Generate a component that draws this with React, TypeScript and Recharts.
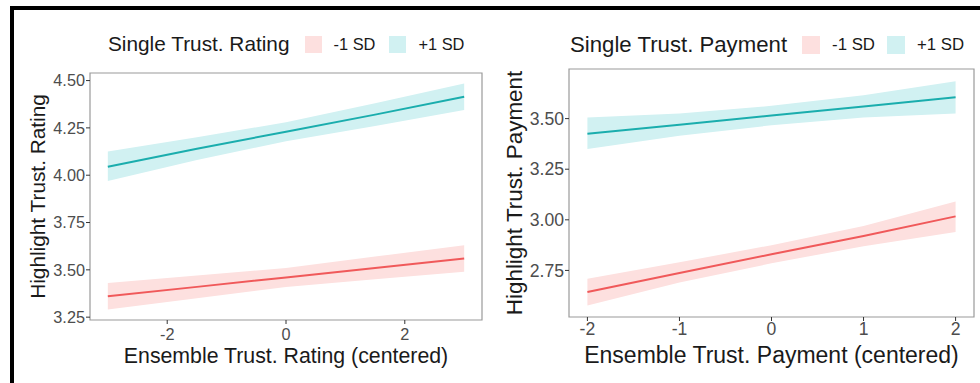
import { ComposedChart, Area, Line, XAxis, YAxis, ReferenceArea, Legend } from 'recharts'

// Left panel: Ensemble Trust. Rating (centered)
const ratingX = [-3, -1.5, 0, 1.5, 3]
const ratingLowFit = [3.36, 3.41, 3.46, 3.51, 3.56]
const ratingLowLower = [3.29, 3.35, 3.41, 3.45, 3.49]
const ratingLowUpper = [3.43, 3.47, 3.51, 3.57, 3.63]
const ratingHighFit = [4.045, 4.14, 4.23, 4.32, 4.415]
const ratingHighLower = [3.97, 4.08, 4.18, 4.26, 4.345]
const ratingHighUpper = [4.125, 4.2, 4.28, 4.38, 4.485]
const ratingYTicks = [3.25, 3.5, 3.75, 4.0, 4.25, 4.5]
const ratingXTicks = [-2, 0, 2]

// Right panel: Ensemble Trust. Payment (centered)
const paymentX = [-2, -1, 0, 1, 2]
const paymentLowFit = [2.643, 2.737, 2.83, 2.92, 3.017]
const paymentLowLower = [2.577, 2.69, 2.785, 2.87, 2.94]
const paymentLowUpper = [2.709, 2.79, 2.875, 2.97, 3.09]
const paymentHighFit = [3.425, 3.47, 3.515, 3.56, 3.605]
const paymentHighLower = [3.35, 3.415, 3.467, 3.505, 3.525]
const paymentHighUpper = [3.505, 3.525, 3.563, 3.615, 3.685]
const paymentYTicks = [2.75, 3.0, 3.25, 3.5]
const paymentXTicks = [-2, -1, 0, 1, 2]

const FONT = '"Liberation Sans", Arial, sans-serif'
const RED = '#f0595a'
const RED_FILL = '#fde0df'
const TEAL = '#1aadad'
const TEAL_FILL = '#d1f1f2'
const BORDER = '#9a9a9a'

function buildRows(x: number[], lowFit: number[], lowLo: number[], lowHi: number[], highFit: number[], highLo: number[], highHi: number[]) {
  return x.map((v, i) => ({
    x: v,
    lowFit: lowFit[i],
    lowBand: [lowLo[i], lowHi[i]],
    highFit: highFit[i],
    highBand: [highLo[i], highHi[i]],
  }))
}

interface LegendProps {
  title: string
  left: number
  titleSize: number
  labelSize: number
  box: number
  gap: number
}

function LegendContent({ title, left, titleSize, labelSize, box, gap }: LegendProps) {
  const swatch = (color: string) => (
    <span style={{ display: 'inline-block', flexShrink: 0, width: box, height: box, background: color, marginRight: 12 }} />
  )
  return (
    <div style={{ fontFamily: FONT, display: 'flex', alignItems: 'center', whiteSpace: 'nowrap', paddingLeft: left, paddingTop: 32, color: '#1a1a1a' }}>
      <span style={{ fontSize: titleSize, marginRight: 15 }}>{title}</span>
      {swatch(RED_FILL)}
      <span style={{ fontSize: labelSize, marginRight: gap }}>-1 SD</span>
      {swatch(TEAL_FILL)}
      <span style={{ fontSize: labelSize }}>+1 SD</span>
    </div>
  )
}

interface PanelProps {
  rows: ReturnType<typeof buildRows>
  xDomain: [number, number]
  yDomain: [number, number]
  xTicks: number[]
  yTicks: number[]
  xTitle: string
  yTitle: string
  legend: LegendProps
  yAxisWidth: number
  yTitleOffset: number
  xTitleOffset: number
  xTickMargin: number
  scale: number
  top: number
  bottom: number
  right: number
}

function Panel(p: PanelProps) {
  const tickStyle = { fill: '#4d4d4d', fontSize: 16.3 * p.scale, fontFamily: FONT }
  return (
    <ComposedChart width={490} height={383} data={p.rows} margin={{ top: 0, right: p.right, bottom: 0, left: 0 }}>
      <Legend
        verticalAlign="top"
        height={p.top}
        wrapperStyle={{ left: 0, top: 0, width: 490 }}
        content={() => <LegendContent {...p.legend} />}
      />
      <XAxis
        dataKey="x"
        type="number"
        domain={p.xDomain}
        ticks={p.xTicks}
        height={p.bottom}
        axisLine={false}
        tickLine={{ stroke: '#333' }}
        tickSize={4}
        tickMargin={p.xTickMargin}
        tick={tickStyle}
        label={{ value: p.xTitle, position: 'insideBottom', offset: p.xTitleOffset, style: { fill: '#1a1a1a', fontSize: 21.3 * p.scale, fontFamily: FONT } }}
      />
      <YAxis
        type="number"
        domain={p.yDomain}
        ticks={p.yTicks}
        width={p.yAxisWidth}
        allowDataOverflow
        axisLine={false}
        tickLine={{ stroke: '#333' }}
        tickSize={4}
        tickMargin={1}
        tick={tickStyle}
        tickFormatter={(v: number) => v.toFixed(2)}
        label={{ value: p.yTitle, angle: -90, position: 'insideLeft', offset: p.yTitleOffset, style: { textAnchor: 'middle', fill: '#1a1a1a', fontSize: 20.8 * p.scale, fontFamily: FONT } }}
      />
      <Area dataKey="lowBand" type="linear" fill={RED_FILL} fillOpacity={1} stroke="none" isAnimationActive={false} />
      <Area dataKey="highBand" type="linear" fill={TEAL_FILL} fillOpacity={1} stroke="none" isAnimationActive={false} />
      <Line dataKey="lowFit" type="linear" stroke={RED} strokeWidth={2} dot={false} isAnimationActive={false} />
      <Line dataKey="highFit" type="linear" stroke={TEAL} strokeWidth={2} dot={false} isAnimationActive={false} />
      <ReferenceArea
        x1={p.xDomain[0]}
        x2={p.xDomain[1]}
        y1={p.yDomain[0]}
        y2={p.yDomain[1]}
        fill="none"
        stroke={BORDER}
        strokeWidth={1.2}
      />
    </ComposedChart>
  )
}

export default function App() {
  const ratingRows = buildRows(ratingX, ratingLowFit, ratingLowLower, ratingLowUpper, ratingHighFit, ratingHighLower, ratingHighUpper)
  const paymentRows = buildRows(paymentX, paymentLowFit, paymentLowLower, paymentLowUpper, paymentHighFit, paymentHighLower, paymentHighUpper)

  return (
    <div style={{ position: 'absolute', top: 0, left: 0, width: 980, height: 383, background: '#fff', overflow: 'hidden' }}>
      <div style={{ position: 'absolute', top: 6, left: 10, width: 980, height: 383, borderTop: '4px solid #000', borderLeft: '4px solid #000' }} />
      <div style={{ position: 'absolute', top: 0, left: 0 }}>
        <Panel
          rows={ratingRows}
          xDomain={[-3.3, 3.3]}
          yDomain={[3.235, 4.54]}
          xTicks={ratingXTicks}
          yTicks={ratingYTicks}
          xTitle="Ensemble Trust. Rating (centered)"
          yTitle="Highlight Trust. Rating"
          legend={{ title: 'Single Trust. Rating', left: 108, titleSize: 20.8, labelSize: 16.4, box: 17, gap: 14 }}
          yAxisWidth={90}
          yTitleOffset={38}
          xTitleOffset={20}
          xTickMargin={4}
          scale={1}
          top={73}
          bottom={63}
          right={8}
        />
      </div>
      <div style={{ position: 'absolute', top: 0, left: 490 }}>
        <Panel
          rows={paymentRows}
          xDomain={[-2.2, 2.2]}
          yDomain={[2.52, 3.745]}
          xTicks={paymentXTicks}
          yTicks={paymentYTicks}
          xTitle="Ensemble Trust. Payment (centered)"
          yTitle="Highlight Trust. Payment"
          legend={{ title: 'Single Trust. Payment', left: 80, titleSize: 22.2, labelSize: 16.8, box: 18, gap: 12 }}
          yAxisWidth={79}
          yTitleOffset={24}
          xTitleOffset={20}
          xTickMargin={2}
          scale={1.08}
          top={69}
          bottom={66}
          right={6}
        />
      </div>
    </div>
  )
}
